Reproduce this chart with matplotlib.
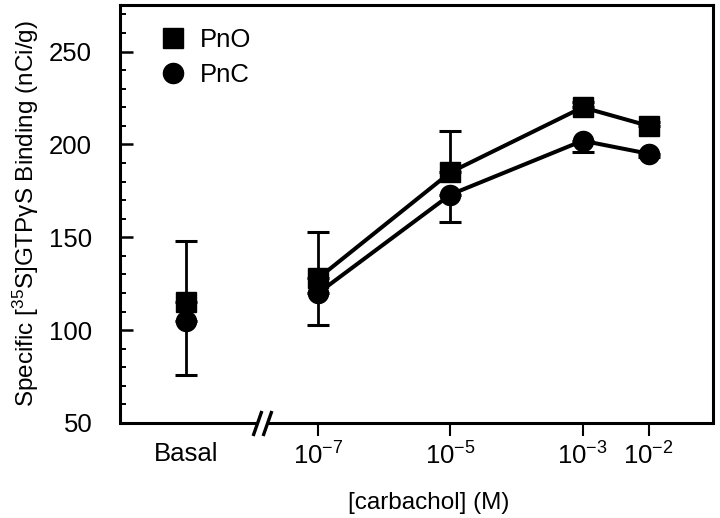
import matplotlib
matplotlib.use("Agg")
import matplotlib.pyplot as plt
import matplotlib.transforms as mtransforms
from matplotlib.lines import Line2D
import numpy as np

plt.rcParams['font.family'] = ['Liberation Sans', 'DejaVu Sans']
plt.rcParams['mathtext.fontset'] = 'custom'
plt.rcParams['mathtext.rm'] = 'Liberation Sans'
plt.rcParams['mathtext.it'] = 'Liberation Sans'
plt.rcParams['mathtext.bf'] = 'Liberation Sans'
plt.rcParams['mathtext.default'] = 'regular'

# ---- data ----
basal_x = 1e-9                      # position used for the "Basal" column
conc = [1e-7, 1e-5, 1e-3, 1e-2]     # carbachol (M)
pno_basal = 115
pnc_basal = 105
pno = [128, 185, 220, 210]
pnc = [120, 173, 202, 195]
pno_basal_err_up = 33
pnc_basal_err_dn = 29
pno_err_up = [25, 22, 3, 2]
pnc_err_dn = [17, 15, 6, 2]

xtick_pos = [1e-9, 1e-7, 1e-5, 1e-3, 1e-2]
xtick_labels = ['Basal', '10$^{-7}$', '10$^{-5}$', '10$^{-3}$', '10$^{-2}$']
yticks = [50, 100, 150, 200, 250]
break_x = 10 ** -7.85

fig = plt.figure(figsize=(7.2, 5.18), dpi=100)
ax = fig.add_axes([0.1667, 0.1834, 0.8233, 0.8066])
ax.set_xscale('log')
ax.set_xlim(1e-10, 10 ** -1.03)
ax.set_ylim(50, 275)

lw = 2.9
ms = 14.5
fs = 18.5
ekw = dict(ecolor='black', elinewidth=2.0, capsize=8, capthick=2.2, fmt='none')

# error bars (one-sided)
ax.errorbar([basal_x], [pno_basal], yerr=[[0], [pno_basal_err_up]], **ekw)
ax.errorbar([basal_x], [pnc_basal], yerr=[[pnc_basal_err_dn], [0]], **ekw)
ax.errorbar(conc, pno, yerr=[np.zeros(len(pno)), pno_err_up], **ekw)
ax.errorbar(conc, pnc, yerr=[pnc_err_dn, np.zeros(len(pnc))], **ekw)

# lines and markers
ax.plot(conc, pno, color='black', lw=lw, marker='s', ms=ms, zorder=3)
ax.plot(conc, pnc, color='black', lw=lw, marker='o', ms=ms, zorder=3)
ax.plot([basal_x], [pno_basal], color='black', ls='none', marker='s', ms=ms, zorder=3)
ax.plot([basal_x], [pnc_basal], color='black', ls='none', marker='o', ms=ms, zorder=3)

# axes styling
for s in ['left', 'right', 'top']:
    ax.spines[s].set_linewidth(2.2)
ax.spines['bottom'].set_visible(False)

ax.set_yticks(yticks)
ax.set_yticks(np.arange(50, 276, 10), minor=True)
ax.tick_params(axis='y', which='major', direction='in', length=9.5, width=1.8,
               labelsize=fs, pad=20)
ax.tick_params(axis='y', which='minor', direction='in', length=4, width=1.4)

ax.xaxis.set_minor_locator(matplotlib.ticker.NullLocator())
ax.set_xticks(xtick_pos)
ax.set_xticklabels(xtick_labels)
ax.tick_params(axis='x', which='major', direction='out', length=9, width=1.5,
               labelsize=fs, pad=5)
ax.xaxis.get_major_ticks()[0].tick1line.set_visible(False)

# broken bottom axis
trans = mtransforms.blended_transform_factory(ax.transData, ax.transAxes)
gap = 10 ** 0.075
x0, x1 = ax.get_xlim()
ax.plot([x0, break_x / gap], [0, 0], color='black', lw=2.2, transform=trans,
        clip_on=False, solid_capstyle='butt')
ax.plot([break_x * gap, x1], [0, 0], color='black', lw=2.2, transform=trans,
        clip_on=False, solid_capstyle='butt')
ax.plot([break_x / gap, break_x * gap], [0, 0], ls='none', transform=trans,
        marker=[(-0.35, -1), (0.35, 1)], ms=18, mew=2.4, mec='black',
        clip_on=False)

ax.set_ylabel('Specific [$^{35}$S]GTPγS Binding (nCi/g)', fontsize=17.5, labelpad=6)
ax.set_xlabel('[carbachol] (M)', fontsize=17.5, labelpad=12)
ax.xaxis.set_label_coords(0.52, -0.165)

handles = [Line2D([], [], color='black', ls='none', marker='s', ms=ms),
           Line2D([], [], color='black', ls='none', marker='o', ms=ms)]
ax.legend(handles, ['PnO', 'PnC'], loc='upper left', frameon=False,
          fontsize=fs, bbox_to_anchor=(0.025, 1.0), handletextpad=0.45,
          labelspacing=0.4, handlelength=1.2)

fig.savefig('out.png', dpi=100)
